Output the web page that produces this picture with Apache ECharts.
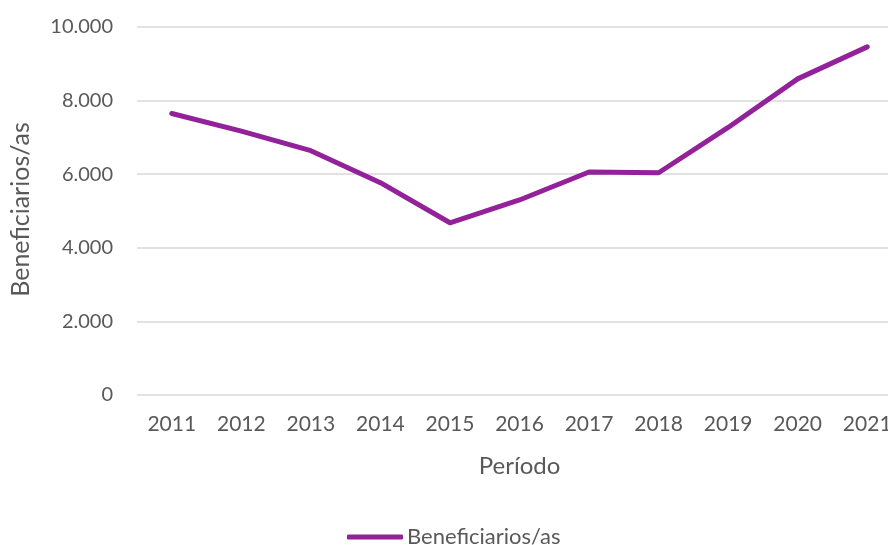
<!DOCTYPE html>
<html>
<head>
<meta charset="utf-8">
<script src="https://cdn.jsdelivr.net/npm/echarts@6/dist/echarts.min.js"></script>
<style>html,body{margin:0;padding:0;background:#fff;overflow:hidden}#c{width:902px;height:545px}</style>
</head>
<body>
<div id="c"></div>
<script>
const categories = ['2011','2012','2013','2014','2015','2016','2017','2018','2019','2020','2021'];
const beneficiarios = [7650, 7170, 6640, 5770, 4680, 5300, 6060, 6040, 7270, 8590, 9460];
const seriesName = 'Beneficiarios/as';
const xTitle = 'Período';
const yTitle = 'Beneficiarios/as';

const font = 'Lato, "Open Sans", sans-serif';
const txt = '#595959';
const chart = echarts.init(document.getElementById('c'), null, {renderer: 'canvas'});
chart.setOption({
  animation: false,
  textStyle: {fontFamily: font},
  grid: {left: 134, top: 27, right: 0, height: 368, containLabel: false},
  legend: {
    data: [seriesName], left: 342, top: 521,
    icon: 'roundRect', itemWidth: 56, itemHeight: 5, itemGap: 0,
    textStyle: {color: txt, fontSize: 22, fontFamily: font, padding: [0,0,0,-1]}
  },
  xAxis: {
    type: 'category', data: categories, boundaryGap: true,
    axisLine: {show: false}, axisTick: {show: false},
    axisLabel: {color: txt, fontSize: 21, margin: 19, fontFamily: font},
    name: xTitle, nameLocation: 'middle', nameGap: 59,
    nameTextStyle: {color: txt, fontSize: 24, fontFamily: font}
  },
  yAxis: {
    type: 'value', min: 0, max: 10000, interval: 2000,
    axisLine: {show: false}, axisTick: {show: false},
    splitLine: {lineStyle: {color: '#d9d9d9', width: 1.5}},
    axisLabel: {color: txt, fontSize: 20, margin: 24, fontFamily: font,
      formatter: v => v === 0 ? '0' : (v/1000).toFixed(3)},
    name: yTitle, nameLocation: 'middle', nameGap: 104, nameRotate: 90,
    nameTextStyle: {color: txt, fontSize: 25, fontFamily: font, padding: [0,0,0,3]}
  },
  series: [{
    name: seriesName, type: 'line', data: beneficiarios,
    symbol: 'none', smooth: false,
    lineStyle: {color: '#93219A', width: 5, cap: 'round', join: 'round'},
    itemStyle: {color: '#93219A'}
  }]
});
</script>
</body>
</html>
